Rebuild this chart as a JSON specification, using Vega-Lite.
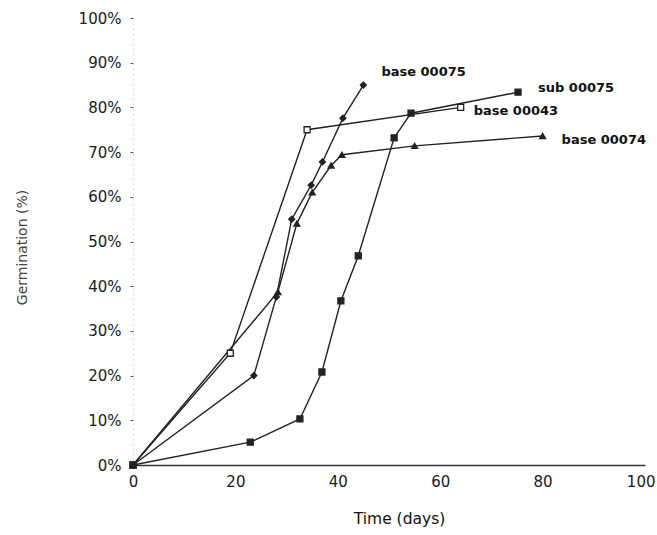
{
  "$schema": "https://vega.github.io/schema/vega-lite/v6.json",
  "width": 512,
  "height": 447,
  "autosize": "none",
  "padding": {"left": 133, "top": 18, "right": 12, "bottom": 70},
  "background": "white",
  "config": {
    "view": {"stroke": null},
    "font": "DejaVu Sans"
  },
  "data": {
    "values": [
      {"series": "base 00043", "day": 0, "germ": 0},
      {"series": "base 00043", "day": 19, "germ": 0.25},
      {"series": "base 00043", "day": 34, "germ": 0.75},
      {"series": "base 00043", "day": 64, "germ": 0.8},

      {"series": "base 00075", "day": 0, "germ": 0},
      {"series": "base 00075", "day": 23.6, "germ": 0.2},
      {"series": "base 00075", "day": 28, "germ": 0.376},
      {"series": "base 00075", "day": 31, "germ": 0.55},
      {"series": "base 00075", "day": 34.8, "germ": 0.626},
      {"series": "base 00075", "day": 37, "germ": 0.678},
      {"series": "base 00075", "day": 41, "germ": 0.776},
      {"series": "base 00075", "day": 45, "germ": 0.85},

      {"series": "base 00074", "day": 0, "germ": 0},
      {"series": "base 00074", "day": 28.3, "germ": 0.387},
      {"series": "base 00074", "day": 32, "germ": 0.54},
      {"series": "base 00074", "day": 35, "germ": 0.61},
      {"series": "base 00074", "day": 38.7, "germ": 0.67},
      {"series": "base 00074", "day": 40.8, "germ": 0.694},
      {"series": "base 00074", "day": 55, "germ": 0.714},
      {"series": "base 00074", "day": 80, "germ": 0.736},

      {"series": "sub 00075", "day": 0, "germ": 0},
      {"series": "sub 00075", "day": 22.9, "germ": 0.051},
      {"series": "sub 00075", "day": 32.6, "germ": 0.103},
      {"series": "sub 00075", "day": 36.9, "germ": 0.208},
      {"series": "sub 00075", "day": 40.6, "germ": 0.367},
      {"series": "sub 00075", "day": 44, "germ": 0.468},
      {"series": "sub 00075", "day": 51, "germ": 0.732},
      {"series": "sub 00075", "day": 54.3, "germ": 0.787},
      {"series": "sub 00075", "day": 75.2, "germ": 0.834}
    ]
  },
  "encoding": {
    "x": {
      "field": "day",
      "type": "quantitative",
      "scale": {"domain": [0, 100], "nice": false, "zero": false},
      "axis": {
        "title": "Time (days)",
        "values": [0, 20, 40, 60, 80, 100],
        "grid": false,
        "ticks": false,
        "domainColor": "#333333",
        "domainWidth": 1.5,
        "labelPadding": 9,
        "labelFontSize": 15,
        "labelColor": "#1a1a1a",
        "labelFlush": false,
        "labelAlign": {"expr": "datum.value == 100 ? 'right' : 'center'"},
        "labelOffset": {"expr": "datum.value == 100 ? 10 : 0"},
        "titleFontSize": 15.5,
        "titleFontWeight": "normal",
        "titleColor": "#111111",
        "titleX": 266,
        "titleY": 53,
        "titleBaseline": "middle"
      }
    },
    "y": {
      "field": "germ",
      "type": "quantitative",
      "scale": {"domain": [0, 1], "nice": false},
      "axis": {
        "title": "Germination (%)",
        "format": ".0%",
        "values": [0, 0.1, 0.2, 0.3, 0.4, 0.5, 0.6, 0.7, 0.8, 0.9, 1],
        "grid": false,
        "domainColor": "#d8d8d8",
        "domainDash": [2, 3],
        "domainWidth": 1,
        "tickColor": "#555555",
        "tickSize": 3,
        "labelPadding": 9,
        "labelFontSize": 15,
        "labelColor": "#1a1a1a",
        "labelFlush": false,
        "titleFontSize": 14,
        "titleFontWeight": "normal",
        "titleColor": "#444444",
        "titleAngle": -90,
        "titleX": -111,
        "titleY": 229,
        "titleAlign": "center",
        "titleBaseline": "middle"
      }
    }
  },
  "layer": [
    {
      "mark": {"type": "line", "strokeWidth": 1.4, "color": "#222222"},
      "encoding": {
        "detail": {"field": "series", "type": "nominal"},
        "order": {"field": "day", "type": "quantitative"}
      }
    },
    {
      "mark": {"type": "point", "size": 36, "strokeWidth": 1.3, "opacity": 1, "stroke": "#222222"},
      "encoding": {
        "shape": {
          "field": "series",
          "type": "nominal",
          "scale": {
            "domain": ["base 00043", "base 00075", "base 00074", "sub 00075"],
            "range": ["square", "diamond", "triangle-up", "square"]
          },
          "legend": null
        },
        "fill": {
          "field": "series",
          "type": "nominal",
          "scale": {
            "domain": ["base 00043", "base 00075", "base 00074", "sub 00075"],
            "range": ["#ffffff", "#222222", "#222222", "#222222"]
          },
          "legend": null
        }
      }
    },
    {
      "transform": [{"filter": "datum.series == 'base 00075' && datum.day == 45"}],
      "mark": {"type": "text", "align": "left", "baseline": "middle", "dx": 18, "dy": -13, "fontSize": 13, "fontWeight": "bold", "color": "#111111"},
      "encoding": {"text": {"field": "series"}}
    },
    {
      "transform": [{"filter": "datum.series == 'sub 00075' && datum.day == 75.2"}],
      "mark": {"type": "text", "align": "left", "baseline": "middle", "dx": 20, "dy": -4, "fontSize": 13, "fontWeight": "bold", "color": "#111111"},
      "encoding": {"text": {"field": "series"}}
    },
    {
      "transform": [{"filter": "datum.series == 'base 00043' && datum.day == 64"}],
      "mark": {"type": "text", "align": "left", "baseline": "middle", "dx": 13, "dy": 4, "fontSize": 13, "fontWeight": "bold", "color": "#111111"},
      "encoding": {"text": {"field": "series"}}
    },
    {
      "transform": [{"filter": "datum.series == 'base 00074' && datum.day == 80"}],
      "mark": {"type": "text", "align": "left", "baseline": "middle", "dx": 19, "dy": 4, "fontSize": 13, "fontWeight": "bold", "color": "#111111"},
      "encoding": {"text": {"field": "series"}}
    }
  ]
}
